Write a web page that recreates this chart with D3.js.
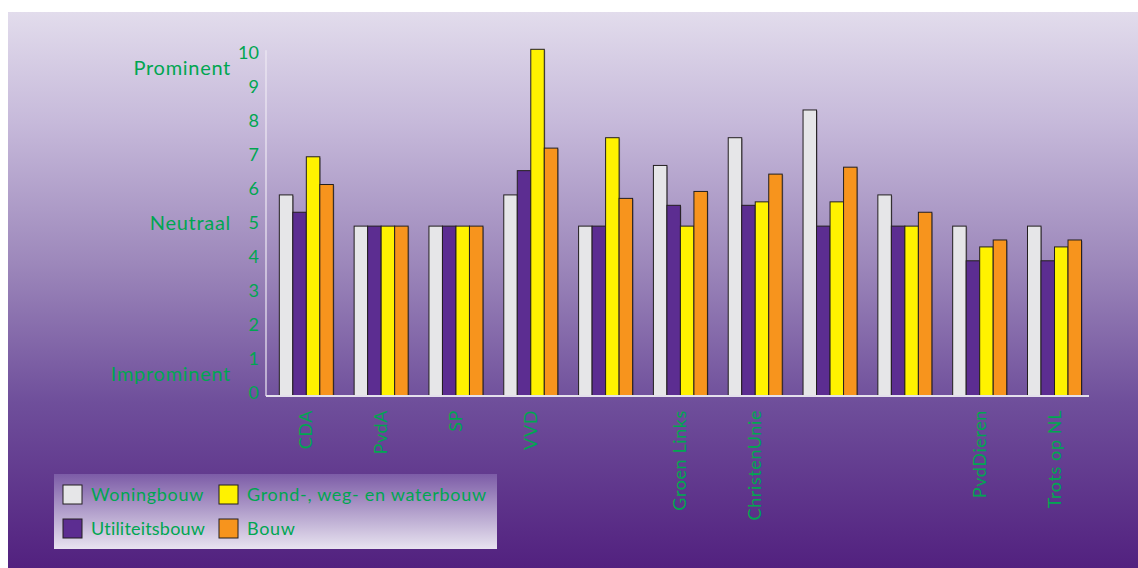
<!DOCTYPE html>
<html><head><meta charset="utf-8">
<script src="https://cdn.jsdelivr.net/npm/d3@7"></script>
<style>html,body{margin:0;padding:0;background:#fff;}svg{display:block;}</style>
</head><body>
<svg id="c" width="1138" height="568"></svg>
<script>
const categories = ["CDA","PvdA","SP","VVD","","Groen Links","ChristenUnie","","","PvdDieren","Trots op NL"];
const series = ["Woningbouw","Utiliteitsbouw","Grond-, weg- en waterbouw","Bouw"];
const woningbouw     = [5.8, 4.9, 4.9, 5.8, 4.9, 6.65, 7.45, 8.25, 5.8, 4.9, 4.9];
const utiliteitsbouw = [5.3, 4.9, 4.9, 6.5, 4.9, 5.5, 5.5, 4.9, 4.9, 3.9, 3.9];
const gww            = [6.9, 4.9, 4.9, 10, 7.45, 4.9, 5.6, 5.6, 4.9, 4.3, 4.3];
const bouw           = [6.1, 4.9, 4.9, 7.15, 5.7, 5.9, 6.4, 6.6, 5.3, 4.5, 4.5];
const yTicks = [0,1,2,3,4,5,6,7,8,9,10];
const scaleLabels = [{text:"Prominent", v:9.55},{text:"Neutraal", v:5},{text:"Improminent", v:0.55}];
const colors = ["#e6e6e8","#5c2d91","#fff200","#f7941d"];
const valuesBySeries = [woningbouw, utiliteitsbouw, gww, bouw];

const svg = d3.select("#c");
const defs = svg.append("defs");
const bg = defs.append("linearGradient").attr("id","bg").attr("x1",0).attr("y1",0).attr("x2",0).attr("y2",1);
bg.append("stop").attr("offset","0").attr("stop-color","#e2dcec");
bg.append("stop").attr("offset","0.2").attr("stop-color","#c6b9da");
bg.append("stop").attr("offset","0.45").attr("stop-color","#9d88bb");
bg.append("stop").attr("offset","0.7").attr("stop-color","#6f4f9b");
bg.append("stop").attr("offset","1").attr("stop-color","#52217f");
const lg = defs.append("linearGradient").attr("id","lg").attr("x1",0).attr("y1",0).attr("x2",0).attr("y2",1);
lg.append("stop").attr("offset","0").attr("stop-color","#7c5ca7");
lg.append("stop").attr("offset","1").attr("stop-color","#e8e3f0");

svg.append("rect").attr("x",8).attr("y",12).attr("width",1130).attr("height",556).attr("fill","url(#bg)");

const font = "Lato, 'Noto Sans', sans-serif";
const green = "#00a651";

const x = d3.scaleBand().domain(d3.range(categories.length)).range([266,1089]).padding(0);
const xs = d3.scaleBand().domain(d3.range(series.length)).range([x.bandwidth()*0.178, x.bandwidth()*0.9]).padding(0);
const y = d3.scaleLinear().domain([0,10]).range([396,49.3]);
const yl = d3.scaleLinear().domain([0,10]).range([392.5,52.5]);

// bars
const g = svg.append("g");
categories.forEach((c,i)=>{
  const gg = g.append("g").attr("transform",`translate(${x(i)},0)`);
  series.forEach((s,j)=>{
    const v = valuesBySeries[j][i];
    gg.append("rect")
      .attr("x", xs(j)+1).attr("y", y(v)+1)
      .attr("width", xs.bandwidth()).attr("height", y(0)-y(v))
      .attr("fill","#000").attr("opacity",0.25);
    gg.append("rect")
      .attr("x", xs(j)).attr("y", y(v))
      .attr("width", xs.bandwidth()).attr("height", y(0)-y(v))
      .attr("fill", colors[j]).attr("stroke","#231f20").attr("stroke-width",1);
  });
});

// axes lines
svg.append("line").attr("x1",266).attr("x2",266).attr("y1",y(10)+1).attr("y2",y(0))
  .attr("stroke","#eeeaf3").attr("stroke-width",1.2);
svg.append("line").attr("x1",266).attr("x2",1089).attr("y1",y(0)).attr("y2",y(0))
  .attr("stroke","#e4e0ec").attr("stroke-width",2);

// y tick labels
svg.append("g").selectAll("text").data(yTicks).join("text")
  .attr("x",259).attr("y",d=>yl(d)).attr("dy","0.35em")
  .attr("text-anchor","end").attr("font-family",font).attr("font-size",18)
  .attr("fill",green).text(d=>d);

svg.append("g").selectAll("text").data(scaleLabels).join("text")
  .attr("x",231).attr("y",d=>yl(d.v)).attr("dy","0.35em")
  .attr("text-anchor","end").attr("font-family",font).attr("font-size",20)
  .attr("letter-spacing","0.7px")
  .attr("fill",green).text(d=>d.text);

// x labels
svg.append("g").selectAll("text").data(categories).join("text")
  .attr("transform",(d,i)=>`translate(${x(i)+xs(0)+xs.bandwidth()*2+6},410) rotate(-90)`)
  .attr("text-anchor","end").attr("font-family",font).attr("font-size",18)
  .attr("letter-spacing","0.6px")
  .attr("fill",green).text(d=>d);

// legend
svg.append("rect").attr("x",54).attr("y",474).attr("width",443).attr("height",75).attr("fill","url(#lg)");
const legPos = [[63,485],[63,519],[219,485],[219,519]];
series.forEach((s,j)=>{
  const [lx,ly] = legPos[j];
  svg.append("rect").attr("x",lx).attr("y",ly).attr("width",19).attr("height",19)
    .attr("fill",colors[j]).attr("stroke","#231f20").attr("stroke-width",1);
  svg.append("text").attr("x",lx+28).attr("y",ly+9.5).attr("dy","0.35em")
    .attr("font-family",font).attr("font-size",18).attr("letter-spacing",j===1 ? "0.2px" : "0.7px")
    .attr("fill",green).text(s);
});
</script>
</body></html>
